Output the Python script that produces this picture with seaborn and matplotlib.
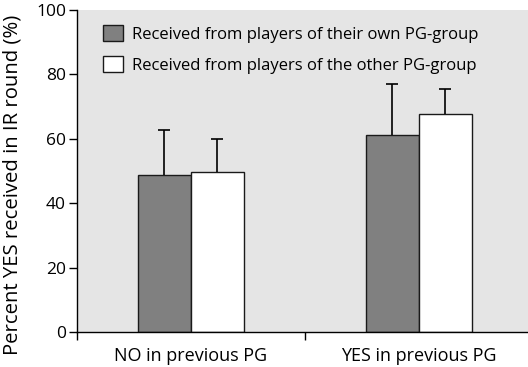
import numpy as np
import pandas as pd
import matplotlib.pyplot as plt
import seaborn as sns

categories = ["NO in previous PG", "YES in previous PG"]
groups = ["Received from players of their own PG-group",
          "Received from players of the other PG-group"]
own_mean = [48.8, 61.3]
other_mean = [49.8, 67.7]
own_err = [13.9, 15.6]
other_err = [10.2, 7.8]

df = pd.DataFrame({
    "prev": categories * 2,
    "group": [groups[0]] * 2 + [groups[1]] * 2,
    "pct": own_mean + other_mean,
})

sns.set_style("ticks")
plt.rcParams["font.family"] = ["Open Sans", "DejaVu Sans"]
plt.rcParams["text.color"] = "black"
plt.rcParams["xtick.color"] = "black"
plt.rcParams["ytick.color"] = "black"
plt.rcParams["axes.labelcolor"] = "black"

fig = plt.figure(figsize=(5.28, 3.67), dpi=100)
ax = fig.add_axes([0.146, 0.095, 0.854, 0.878])
ax.set_facecolor("#e5e5e5")

sns.barplot(data=df, x="prev", y="pct", hue="group", hue_order=groups,
            palette=["#808080", "#ffffff"], edgecolor="#1a1a1a", linewidth=1,
            width=0.465, errorbar=None, ax=ax)

# one-sided error bars (upward only)
for patch_group, errs in zip(ax.containers, [own_err, other_err]):
    xs = [p.get_x() + p.get_width() / 2 for p in patch_group]
    ys = [p.get_height() for p in patch_group]
    _, caps, _ = ax.errorbar(xs, ys, yerr=[np.zeros(len(errs)), errs], fmt="none",
                             ecolor="black", elinewidth=1.2, capsize=4, capthick=1.2)
    caps[0].set_visible(False)

ax.set_ylim(0, 100)
ax.set_xlim(-0.5, 1.48)
ax.set_yticks([0, 20, 40, 60, 80, 100])
ax.set_xticks([-0.5, 0.5], minor=True)
ax.tick_params(axis="x", which="major", length=0, labelsize=13, pad=11)
ax.tick_params(axis="x", which="minor", length=6, width=1)
ax.tick_params(axis="y", length=6, width=1, labelsize=12.5, pad=2)
ax.set_xlabel("")
ax.set_ylabel("Percent YES received in IR round (%)", fontsize=14.6)
ax.yaxis.set_label_coords(-0.122, 0.458)
for s in ["top", "right"]:
    ax.spines[s].set_visible(False)
for s in ["left", "bottom"]:
    ax.spines[s].set_linewidth(1)
    ax.spines[s].set_color("black")

leg = ax.legend(loc="upper left", bbox_to_anchor=(0.035, 0.985), frameon=False,
                fontsize=12, handlelength=1.2, handleheight=1.15,
                handletextpad=0.55, labelspacing=0.78, borderaxespad=0.2, title=None)

fig.savefig("out.png", dpi=100)
